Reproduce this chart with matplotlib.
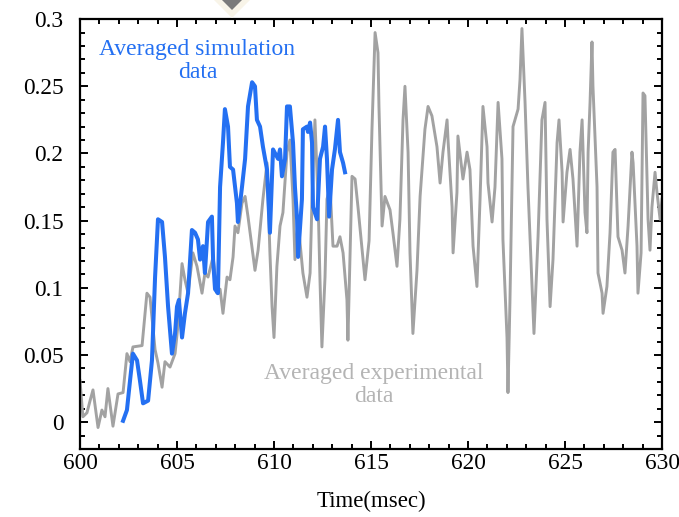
import matplotlib
matplotlib.use("Agg")
import matplotlib.pyplot as plt
from matplotlib.patches import Polygon
from matplotlib.ticker import MultipleLocator

# ---------------- data ----------------
exp_time = [600.00, 600.15, 600.36, 600.52, 600.67, 600.93, 601.13, 601.29, 601.44, 601.70,
            601.96, 602.22, 602.42, 602.58, 602.73, 603.20, 603.45, 603.61, 603.87, 604.02,
            604.23, 604.38, 604.64, 604.90, 605.05, 605.26, 605.41, 605.57, 605.82, 606.03,
            606.29, 606.44, 606.60, 606.86, 607.06, 607.22, 607.37, 607.58, 607.73, 607.89,
            607.99, 608.14, 608.35, 608.51, 608.66, 609.02, 609.18, 609.43, 609.64, 609.79,
            609.90, 610.00, 610.15, 610.31, 610.46, 610.67, 610.82, 610.98, 611.08, 611.24,
            611.34, 611.49, 611.70, 611.86, 611.96, 612.11, 612.27, 612.37, 612.47, 612.63,
            612.73, 612.89, 613.04, 613.25, 613.40, 613.56, 613.76, 613.81, 614.02, 614.18,
            614.33, 614.59, 614.69, 614.90, 615.05, 615.21, 615.36, 615.41, 615.57, 615.72,
            615.98, 616.13, 616.34, 616.49, 616.65, 616.75, 616.91, 617.01, 617.16, 617.37,
            617.53, 617.78, 617.94, 618.14, 618.40, 618.56, 618.71, 618.92, 618.97, 619.18,
            619.23, 619.43, 619.48, 619.74, 619.95, 620.10, 620.26, 620.46, 620.62, 620.77,
            620.98, 621.03, 621.24, 621.39, 621.55, 621.75, 621.80, 622.01, 622.06, 622.16,
            622.32, 622.58, 622.68, 622.78, 622.94, 623.09, 623.30, 623.40, 623.61, 623.81,
            623.97, 624.07, 624.23, 624.38, 624.59, 624.69, 624.85, 624.90, 625.10, 625.26,
            625.41, 625.62, 625.77, 625.88, 626.03, 626.13, 626.19, 626.29, 626.39, 626.44,
            626.65, 626.70, 626.91, 626.96, 627.16, 627.32, 627.47, 627.58, 627.73, 627.94,
            628.09, 628.25, 628.45, 628.51, 628.71, 628.76, 628.92, 629.02, 629.12, 629.28,
            629.38, 629.48, 629.64, 629.74, 629.90, 630.00]
exp_value = [0.031, 0.004, 0.007, 0.016, 0.024, -0.004, 0.009, 0.004, 0.025, -0.003,
             0.021, 0.022, 0.051, 0.045, 0.056, 0.057, 0.096, 0.093, 0.054, 0.044,
             0.026, 0.045, 0.041, 0.051, 0.072, 0.118, 0.106, 0.096, 0.126, 0.116,
             0.096, 0.111, 0.108, 0.123, 0.096, 0.099, 0.081, 0.108, 0.106, 0.123,
             0.146, 0.141, 0.163, 0.168, 0.153, 0.113, 0.128, 0.166, 0.193, 0.126,
             0.086, 0.063, 0.116, 0.146, 0.156, 0.201, 0.210, 0.166, 0.121, 0.149,
             0.134, 0.111, 0.093, 0.111, 0.166, 0.225, 0.166, 0.106, 0.056, 0.108,
             0.166, 0.175, 0.131, 0.131, 0.138, 0.126, 0.091, 0.061, 0.183, 0.181,
             0.160, 0.121, 0.106, 0.135, 0.218, 0.290, 0.275, 0.235, 0.146, 0.168,
             0.158, 0.141, 0.116, 0.151, 0.225, 0.250, 0.201, 0.126, 0.066, 0.113,
             0.168, 0.218, 0.235, 0.228, 0.205, 0.178, 0.201, 0.225, 0.210, 0.160,
             0.126, 0.171, 0.213, 0.181, 0.201, 0.188, 0.131, 0.101, 0.166, 0.235,
             0.205, 0.178, 0.149, 0.175, 0.238, 0.196, 0.136, 0.063, 0.022, 0.089,
             0.220, 0.233, 0.255, 0.293, 0.238, 0.175, 0.101, 0.066, 0.138, 0.225,
             0.238, 0.151, 0.086, 0.121, 0.208, 0.225, 0.186, 0.149, 0.186, 0.203,
             0.181, 0.131, 0.201, 0.225, 0.156, 0.141, 0.201, 0.238, 0.283, 0.250,
             0.175, 0.111, 0.096, 0.081, 0.101, 0.141, 0.201, 0.203, 0.138, 0.128,
             0.111, 0.146, 0.201, 0.193, 0.131, 0.096, 0.126, 0.245, 0.243, 0.151,
             0.128, 0.160, 0.186, 0.171, 0.151, 0.166]

sim_time = [602.22, 602.42, 602.58, 602.73, 602.94, 603.09, 603.25, 603.51, 603.71, 603.87,
            604.02, 604.23, 604.38, 604.54, 604.74, 604.90, 605.00, 605.10, 605.26, 605.41,
            605.57, 605.77, 605.93, 606.08, 606.19, 606.34, 606.44, 606.60, 606.80, 606.86,
            606.96, 607.11, 607.22, 607.37, 607.47, 607.63, 607.73, 607.89, 608.09, 608.14,
            608.35, 608.51, 608.66, 608.87, 609.02, 609.12, 609.28, 609.43, 609.64, 609.79,
            609.95, 610.21, 610.31, 610.41, 610.57, 610.67, 610.82, 610.98, 611.08, 611.19,
            611.24, 611.44, 611.49, 611.70, 611.75, 611.86, 611.96, 612.01, 612.22, 612.37,
            612.53, 612.63, 612.73, 612.84, 612.99, 613.14, 613.30, 613.40, 613.56, 613.66]
sim_value = [0.001, 0.009, 0.031, 0.051, 0.046, 0.031, 0.014, 0.016, 0.046, 0.108,
             0.151, 0.149, 0.123, 0.086, 0.051, 0.066, 0.086, 0.091, 0.063, 0.081,
             0.096, 0.143, 0.141, 0.136, 0.121, 0.131, 0.111, 0.149, 0.153, 0.121,
             0.099, 0.096, 0.175, 0.208, 0.233, 0.220, 0.190, 0.188, 0.163, 0.149,
             0.175, 0.196, 0.235, 0.253, 0.250, 0.225, 0.220, 0.205, 0.188, 0.141,
             0.203, 0.196, 0.203, 0.183, 0.196, 0.235, 0.235, 0.208, 0.175, 0.151,
             0.123, 0.166, 0.218, 0.220, 0.216, 0.223, 0.208, 0.160, 0.151, 0.196,
             0.205, 0.220, 0.196, 0.153, 0.188, 0.203, 0.225, 0.201, 0.193, 0.186]

x_ticks = [600, 605, 610, 615, 620, 625, 630]
y_ticks = [0, 0.05, 0.1, 0.15, 0.2, 0.25, 0.3]
y_tick_labels = ["0", "0.05", "0.1", "0.15", "0.2", "0.25", "0.3"]

# ---------------- style ----------------
plt.rcParams["font.family"] = ["Liberation Serif", "DejaVu Serif"]

BLUE = "#2470f2"
GRAY = "#a2a2a2"

fig = plt.figure(figsize=(6.79, 5.17), dpi=100)
ax = fig.add_axes([0.1178, 0.1315, 0.8572, 0.8315])

ax.plot(exp_time, exp_value, color=GRAY, lw=2.1, solid_joinstyle="round", zorder=2)
ax.plot(sim_time, sim_value, color=BLUE, lw=2.9, solid_joinstyle="round", zorder=3)

ax.set_xlim(600, 630)
ax.set_ylim(-0.02, 0.3)
ax.set_xticks(x_ticks)
ax.set_xticklabels([str(t) for t in x_ticks])
ax.set_yticks(y_ticks)
ax.set_yticklabels(y_tick_labels)
ax.xaxis.set_minor_locator(MultipleLocator(1))
ax.yaxis.set_minor_locator(MultipleLocator(0.01))

ax.tick_params(which="both", direction="in", top=True, right=True, width=1.4,
               labelsize=16.8, colors="black")
ax.tick_params(axis="y", which="major", length=6, pad=12)
ax.tick_params(axis="x", which="major", length=6, pad=3)
ax.tick_params(which="minor", length=3.5)
for sp in ax.spines.values():
    sp.set_linewidth(1.6)

ax.set_xlabel("Time(msec)", fontsize=16.5, labelpad=12)

ax.text(606.05, 0.269, "Averaged simulation\ndata", color=BLUE, fontsize=17,
        ha="center", va="center", linespacing=1.1)
ax.text(615.15, 0.0276, "Averaged experimental\ndata", color="#b4b4b4", fontsize=17,
        ha="center", va="center", linespacing=1.1)

# small decorative marker at the top edge of the image
W, H = 679.0, 517.0
def fpt(x, y):
    return (x / W, 1 - y / H)
outer = Polygon([fpt(232 - 22, -4), fpt(232, 18), fpt(232 + 22, -4), fpt(232, -26)],
                closed=True, transform=fig.transFigure, facecolor="#f8f4e8",
                edgecolor="none", zorder=0)
inner = Polygon([fpt(232 - 12, -2), fpt(232, 10), fpt(232 + 12, -2), fpt(232, -14)],
                closed=True, transform=fig.transFigure, facecolor="#7a7a7a",
                edgecolor="none", zorder=1)
fig.patches.extend([outer, inner])

fig.savefig("out.png", dpi=100)
